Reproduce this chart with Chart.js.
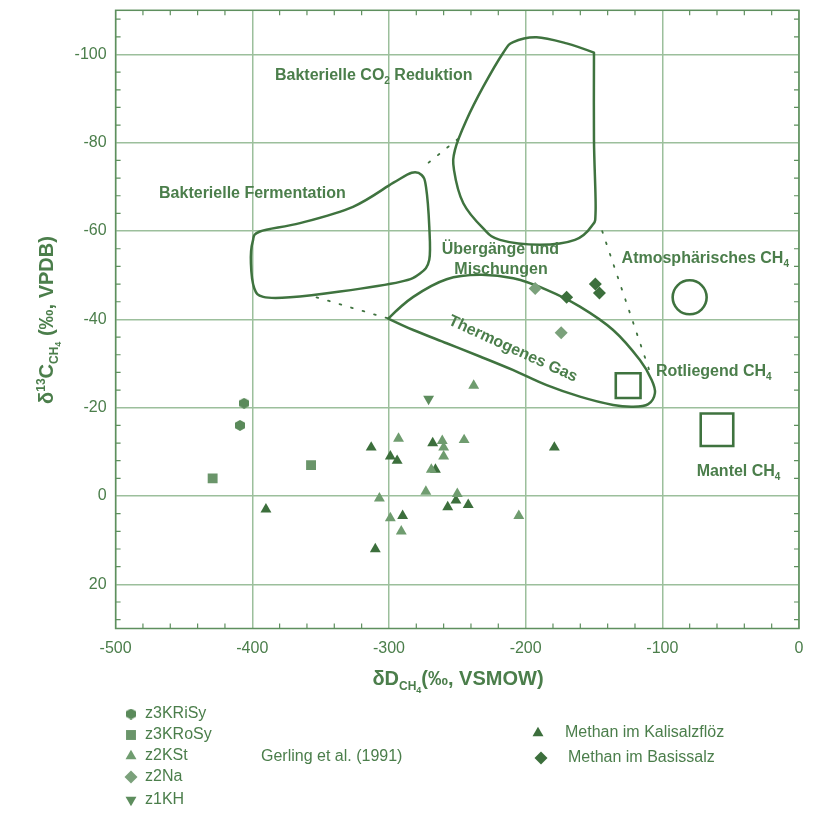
<!DOCTYPE html>
<html>
<head>
<meta charset="utf-8">
<script src="https://cdn.jsdelivr.net/npm/chart.js@4.4.1/dist/chart.umd.min.js"></script>
<style>
html,body{margin:0;padding:0;background:#fff;}
#wrap{position:relative;width:823px;height:813px;}
</style>
</head>
<body>
<div id="wrap"><canvas id="c" width="823" height="813"></canvas></div>
<script>
// ---------- tick values ----------
const xTickValues = [-500, -400, -300, -200, -100, 0];
const yTickValues = [-100, -80, -60, -40, -20, 0, 20];

// ---------- data series (δD, δ13C) ----------
const z3KRiSy = [{x:-406,y:-21},{x:-409,y:-16}];
const z3KRoSy = [{x:-429,y:-4},{x:-357,y:-7}];
const z2KSt = [
  {x:-293,y:-13},{x:-307,y:0.5},{x:-299,y:5},{x:-291,y:8},{x:-238,y:-25},
  {x:-261,y:-12.5},{x:-260,y:-11},{x:-245,y:-12.7},{x:-260,y:-9},{x:-269,y:-6},
  {x:-273,y:-1},{x:-250,y:-0.5},{x:-205,y:4.5}
];
const z2Na = [{x:-193,y:-47},{x:-174,y:-37}];
const z1KH = [{x:-271,y:-22}];
const kalisalzfloez = [
  {x:-390,y:3},{x:-313,y:-11},{x:-299,y:-9},{x:-294,y:-8},{x:-290,y:4.5},
  {x:-310,y:12},{x:-268,y:-12},{x:-266,y:-6},{x:-251,y:1},{x:-242,y:2},
  {x:-257,y:2.5},{x:-179,y:-11}
];
const basissalz = [{x:-170,y:-45},{x:-149,y:-48},{x:-146,y:-46}];

// reference fields
const atmosphericCH4 = [{x:-80,y:-45}];
const rotliegendCH4 = [{x:-125,y:-25}];
const mantelCH4 = [{x:-60,y:-15}];

// field outlines (closed curves)
const fermentationField = [
  [-394.4,-59.9],[-365.1,-61.8],[-326.3,-65.5],[-297.0,-70.9],[-283.4,-73.2],[-276.1,-72.7],
  [-272.9,-70.0],[-270.5,-61.0],[-270.5,-53.5],[-277.3,-50.4],[-291.9,-48.5],[-335.8,-46.3],
  [-372.4,-45.0],[-392.0,-45.1],[-398.5,-47.0],[-401.0,-52.7],[-399.7,-57.6]
];
const co2ReductionField = [
  [-150.0,-100.4],[-170,-102.5],[-192,-103.9],[-209.1,-102.8],[-216.4,-100.4],[-231.0,-92.7],
  [-243.2,-85.2],[-251.7,-78.4],[-252.4,-73.8],[-245.6,-66.3],[-231.0,-60.6],[-218.8,-58.0],
  [-189.5,-56.9],[-163.9,-58.0],[-151.5,-61.2],[-148.8,-64.8],[-150,-80.6]
];
const thermogenicField = [
  [-300.5,-40.2],[-282.2,-45.1],[-257.8,-49.1],[-233.4,-50.1],[-209,-49.3],[-184.6,-46.7],
  [-160.3,-42.9],[-136,-37.6],[-116.4,-30.8],[-107.8,-26.3],[-105.4,-23.3],[-110.3,-20.8],
  [-121.3,-20.2],[-136,-20.6],[-160.3,-22.5],[-184.6,-25.1],[-209,-28.5],[-233.4,-31.6],
  [-257.8,-34.6],[-282.2,-37.6]
];
// dotted connectors
const dotFermThermo = [{x:-353,y:-45},{x:-300.5,y:-40.2}];
const dotFermCO2 = [{x:-271,y:-75.5},{x:-249,y:-81}];
const dotCO2Rot = [{x:-144,y:-60},{x:-109,y:-28}];

// ---------- styles ----------
const FONT = '"Liberation Sans", Arial, Helvetica, sans-serif';
const TXT = '#4b7e4b';
const OUT = '#3f733f';
const GRID = '#9cbf9c';
const FRAME = '#5e8f5e';
const DARK = '#3c6f3c';
const LIGHT = '#6f9c6f';
const HEXC = '#5a8a5a';
const SQC = '#6a956a';
const NAC = '#7ba17b';
const KHC = '#5d8d5d';

function makeHex(color){
  const w=10,h=11;
  const c=document.createElement('canvas'); c.width=w; c.height=h;
  const g=c.getContext('2d'); g.fillStyle=color; g.beginPath();
  g.moveTo(w/2,0); g.lineTo(w,h*0.26); g.lineTo(w,h*0.74); g.lineTo(w/2,h);
  g.lineTo(0,h*0.74); g.lineTo(0,h*0.26); g.closePath(); g.fill();
  return c;
}
const hexImg = makeHex(HEXC);

function drawClosed(ctx, pts, corners){
  const n=pts.length;
  ctx.beginPath();
  ctx.moveTo(pts[0][0],pts[0][1]);
  for(let i=0;i<n;i++){
    const j=(i+1)%n;
    const p0=pts[(i-1+n)%n],p1=pts[i],p2=pts[j],p3=pts[(i+2)%n];
    const t1=corners.includes(i)?[0,0]:[(p2[0]-p0[0])/6,(p2[1]-p0[1])/6];
    const t2=corners.includes(j)?[0,0]:[(p3[0]-p1[0])/6,(p3[1]-p1[1])/6];
    ctx.bezierCurveTo(p1[0]+t1[0],p1[1]+t1[1],p2[0]-t2[0],p2[1]-t2[1],p2[0],p2[1]);
  }
  ctx.closePath();
  ctx.stroke();
}

function richWidth(ctx, parts){
  let w=0;
  parts.forEach(p=>{ctx.font=(p.bold?'bold ':'')+p.size+'px '+FONT; w+=ctx.measureText(p.t).width;});
  return w;
}
function drawRich(ctx, parts, x, y, align){
  const w=richWidth(ctx,parts);
  let cx = align==='center' ? x-w/2 : x;
  ctx.textBaseline='alphabetic';
  ctx.textAlign='left';
  parts.forEach(p=>{
    ctx.font=(p.bold?'bold ':'')+p.size+'px '+FONT;
    ctx.fillText(p.t,cx,y+(p.dy||0));
    cx+=ctx.measureText(p.t).width;
  });
}

function drawMarker(ctx, style, x, y, color){
  ctx.save();
  ctx.fillStyle=color;
  ctx.beginPath();
  if(style==='hex'){ ctx.drawImage(hexImg, x-5, y-5.5); ctx.restore(); return; }
  if(style==='rect'){ const s=7*Math.SQRT1_2; ctx.rect(x-s,y-s,2*s,2*s); }
  if(style==='tri'||style==='triDown'){
    const r=6.3, sgn = style==='tri'?1:-1;
    ctx.moveTo(x, y - sgn*r);
    ctx.lineTo(x + Math.sin(2*Math.PI/3)*r, y + sgn*r*0.5);
    ctx.lineTo(x - Math.sin(2*Math.PI/3)*r, y + sgn*r*0.5);
    ctx.closePath();
  }
  if(style==='diamond'){ const r=6.5; ctx.moveTo(x-r,y); ctx.lineTo(x,y-r); ctx.lineTo(x+r,y); ctx.lineTo(x,y+r); ctx.closePath(); }
  ctx.fill();
  ctx.restore();
}

const decorPlugin = {
  id:'decor',
  beforeDatasetsDraw(chart){
    const {ctx, chartArea:a, scales:{x,y}} = chart;
    ctx.save();
    ctx.strokeStyle=FRAME; ctx.lineWidth=1.5;
    ctx.strokeRect(a.left,a.top,a.right-a.left,a.bottom-a.top);
    ctx.beginPath();
    for(let v=-480; v<0; v+=20){
      if(v%100===0) continue;
      const px=x.getPixelForValue(v);
      ctx.moveTo(px,a.bottom); ctx.lineTo(px,a.bottom-5);
      ctx.moveTo(px,a.top); ctx.lineTo(px,a.top+5);
    }
    for(let v=-108; v<=28; v+=4){
      if(v%20===0) continue;
      const py=y.getPixelForValue(v);
      ctx.moveTo(a.left,py); ctx.lineTo(a.left+5,py);
      ctx.moveTo(a.right,py); ctx.lineTo(a.right-5,py);
    }
    ctx.lineWidth=1.2; ctx.stroke();

    const conv = arr => arr.map(p=>[x.getPixelForValue(p[0]), y.getPixelForValue(p[1])]);
    ctx.strokeStyle=OUT; ctx.lineWidth=2.5; ctx.lineJoin='round';
    drawClosed(ctx, conv(fermentationField), []);
    drawClosed(ctx, conv(co2ReductionField), [0]);
    drawClosed(ctx, conv(thermogenicField), [0]);

    ctx.fillStyle=TXT;
    const B=16;
    const lbl = (parts, dx, dy, align) => drawRich(ctx, parts, x.getPixelForValue(dx), y.getPixelForValue(dy), align);
    lbl([{t:'Bakterielle CO',size:B,bold:true},{t:'2',size:10,bold:true,dy:4},{t:' Reduktion',size:B,bold:true}], -383.4, -94.3, 'left');
    lbl([{t:'Bakterielle Fermentation',size:B,bold:true}], -468.2, -67.4, 'left');
    lbl([{t:'Übergänge und',size:B,bold:true}], -218.5, -54.7, 'center');
    lbl([{t:'Mischungen',size:B,bold:true}], -218.0, -50.2, 'center');
    lbl([{t:'Atmosphärisches CH',size:B,bold:true},{t:'4',size:10,bold:true,dy:4}], -129.8, -52.7, 'left');
    lbl([{t:'Rotliegend CH',size:B,bold:true},{t:'4',size:10,bold:true,dy:4}], -104.7, -27.1, 'left');
    lbl([{t:'Mantel CH',size:B,bold:true},{t:'4',size:10,bold:true,dy:4}], -74.9, -4.6, 'left');
    ctx.save();
    ctx.translate(x.getPixelForValue(-209.3), y.getPixelForValue(-33.3));
    ctx.rotate(24.5*Math.PI/180);
    ctx.font='bold '+B+'px '+FONT; ctx.textAlign='center'; ctx.textBaseline='middle';
    ctx.fillText('Thermogenes Gas',0,0);
    ctx.restore();
    ctx.restore();
  },
  afterDraw(chart){
    const {ctx} = chart;
    ctx.save();
    ctx.fillStyle=TXT;
    drawRich(ctx,[
      {t:'δD',size:20,bold:true},{t:'CH',size:12,bold:true,dy:5},{t:'4',size:9,bold:true,dy:8},
      {t:'(‰, VSMOW)',size:20,bold:true}], 458, 685, 'center');
    ctx.save();
    ctx.translate(53, 320); ctx.rotate(-Math.PI/2);
    drawRich(ctx,[
      {t:'δ',size:20,bold:true},{t:'13',size:12,bold:true,dy:-8},{t:'C',size:20,bold:true},
      {t:'CH',size:12,bold:true,dy:5},{t:'4',size:9,bold:true,dy:8},
      {t:' (‰, VPDB)',size:20,bold:true}], 0, 0, 'center');
    ctx.restore();

    const items = [
      ['hex', HEXC, 'z3KRiSy', 131, 714],
      ['rect', SQC, 'z3KRoSy', 131, 735],
      ['tri', LIGHT, 'z2KSt', 131, 756],
      ['diamond', NAC, 'z2Na', 131, 777],
      ['triDown', KHC, 'z1KH', 131, 800],
      ['tri', DARK, 'Methan im Kalisalzflöz', 538, 733],
      ['diamond', DARK, 'Methan im Basissalz', 541, 758]
    ];
    items.forEach(it=>{
      drawMarker(ctx, it[0], it[3], it[4], it[1]);
      ctx.fillStyle=TXT;
      ctx.font='16px '+FONT; ctx.textAlign='left'; ctx.textBaseline='middle';
      ctx.fillText(it[2], it[3] + (it[3]<200 ? 14 : 27), it[4]);
    });
    ctx.font='16px '+FONT; ctx.textBaseline='middle';
    ctx.fillText('Gerling et al. (1991)', 261, 757);
    ctx.restore();
  }
};

const pt = (label, data, style, color, radius, extra) => Object.assign({
  label, data, pointStyle: style, pointRadius: radius, pointHoverRadius: radius,
  backgroundColor: color, borderColor: color, borderWidth: 0, showLine:false
}, extra||{});
const dots = (label, data) => ({
  label, data, showLine:true, borderColor: OUT, borderWidth:1.8, borderDash:[1.8,10.2],
  borderCapStyle:'round', pointRadius:0, pointHoverRadius:0, fill:false, tension:0
});
const ring = (label, data, style, radius) => ({
  label, data, pointStyle: style, pointRadius: radius, pointHoverRadius: radius,
  backgroundColor:'rgba(0,0,0,0)', borderColor: OUT, borderWidth:2.6, showLine:false
});

new Chart(document.getElementById('c').getContext('2d'), {
  type:'scatter',
  data:{datasets:[
    dots('dot1', dotFermThermo),
    dots('dot2', dotFermCO2),
    dots('dot3', dotCO2Rot),
    ring('Atmosphärisches CH4', atmosphericCH4, 'circle', 17),
    ring('Rotliegend CH4', rotliegendCH4, 'rect', 17.5),
    ring('Mantel CH4', mantelCH4, 'rect', 23),
    pt('z3KRiSy', z3KRiSy, hexImg, HEXC, 6),
    pt('z3KRoSy', z3KRoSy, 'rect', SQC, 7),
    pt('z2KSt', z2KSt, 'triangle', LIGHT, 6.3),
    pt('Methan im Kalisalzflöz', kalisalzfloez, 'triangle', DARK, 6.3),
    pt('z1KH', z1KH, 'triangle', KHC, 6.3, {pointRotation:180}),
    pt('z2Na', z2Na, 'rectRot', NAC, 6.5),
    pt('Methan im Basissalz', basissalz, 'rectRot', DARK, 6.5)
  ]},
  options:{
    responsive:false, animation:false, devicePixelRatio:1,
    layout:{autoPadding:false, padding:{left:0, top:10.3, right:24, bottom:144.5}},
    plugins:{legend:{display:false}, tooltip:{enabled:false}},
    events:[],
    scales:{
      x:{
        type:'linear', min:-500, max:0,
        afterBuildTicks: s => { s.ticks = xTickValues.map(v=>({value:v})); },
        afterFit: s => { s.height = 40; s.paddingLeft = 0; s.paddingRight = 0; },
        grid:{color:GRID, lineWidth:1.5, drawTicks:false},
        border:{display:false},
        ticks:{color:TXT, font:{size:16, family:FONT}, padding:10, maxRotation:0}
      },
      y:{
        type:'linear', min:-110, max:30, reverse:true,
        afterBuildTicks: s => { s.ticks = yTickValues.map(v=>({value:v})); },
        afterFit: s => { s.width = 115.6; s.paddingTop = 0; s.paddingBottom = 0; },
        grid:{color:GRID, lineWidth:1.5, drawTicks:false},
        border:{display:false},
        ticks:{color:TXT, font:{size:16, family:FONT}, padding:9}
      }
    }
  },
  plugins:[decorPlugin]
});
</script>
</body>
</html>
